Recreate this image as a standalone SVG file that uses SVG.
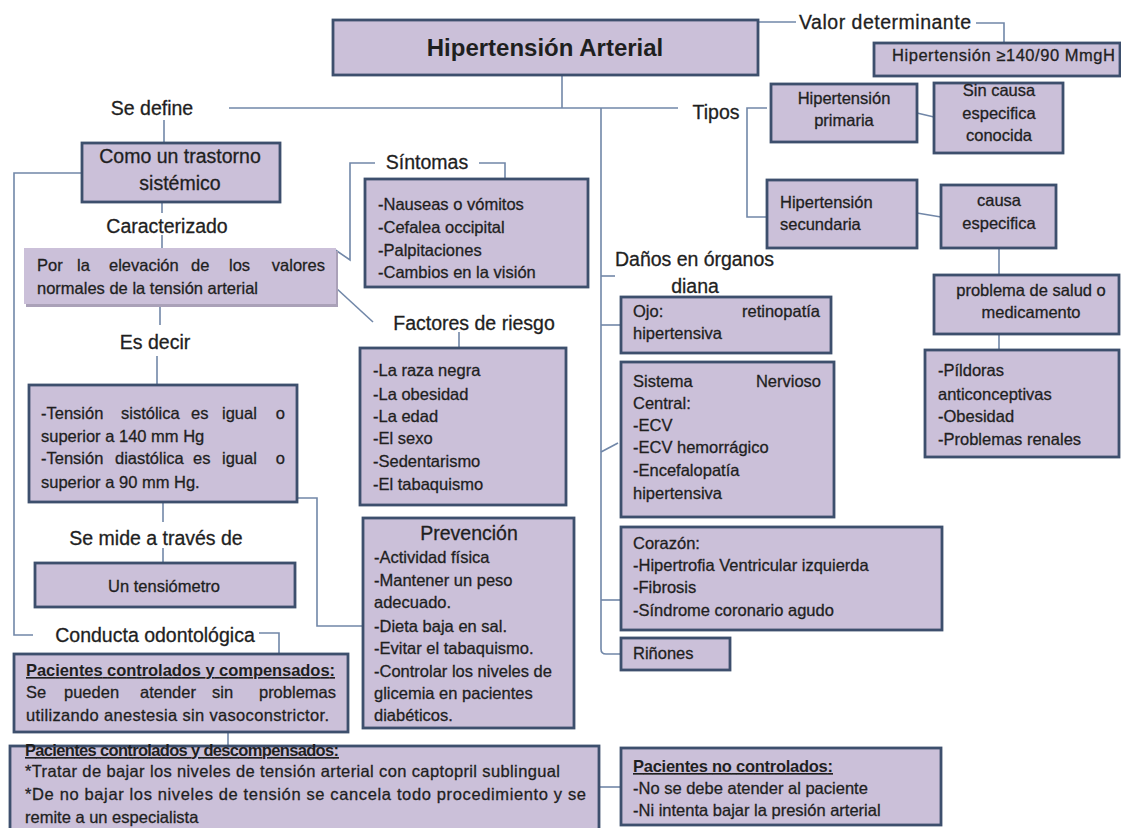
<svg xmlns="http://www.w3.org/2000/svg" width="1121" height="828" viewBox="0 0 1121 828">
<style>
text{font-family:"Liberation Sans",Arial,sans-serif;fill:#1f1f1f;stroke:#1f1f1f;stroke-width:0.3}
.lbl{font-size:19.5px}
.bt{font-size:16.5px}
.md{font-size:19.5px}
.hd{font-size:16.5px;font-weight:bold;text-decoration:underline;stroke-width:0}
.title{font-size:24px;font-weight:bold;stroke-width:0}
.c{text-anchor:middle}
.e{text-anchor:end}
.box{fill:#cbc0d9;stroke:#3d4f6d;stroke-width:2.8}
.plain{fill:#cbc0d9}
.shadow{fill:#aaa1b8}
.conn path{fill:none;stroke:#7187a8;stroke-width:1.6}
</style>
<rect width="1121" height="828" fill="#ffffff"/>

<g id="connectors" class="conn">
<path d="M758,22 H796"/>
<path d="M976,23 H1004 V43"/>
<path d="M562,75 V108"/>
<path d="M229,108 H678"/>
<path d="M601,108 V649 Q601,654 606,654 H621"/>
<path d="M601,276 H615"/>
<path d="M601,325 H621"/>
<path d="M601,452 L618,443"/>
<path d="M601,600 H621"/>
<path d="M767,108 H747 V217 H767"/>
<path d="M917,113 L934,117"/>
<path d="M917,213 L941,217"/>
<path d="M999,248 V275"/>
<path d="M999,334 V350"/>
<path d="M164,120 V143"/>
<path d="M162,202 V213"/>
<path d="M162,235 V248"/>
<path d="M160,305 V325"/>
<path d="M157,356 V385"/>
<path d="M163,502 V522"/>
<path d="M163,548 V563"/>
<path d="M82,173 H14 V635 H33"/>
<path d="M259,633 H279 V654"/>
<path d="M228,732 V746"/>
<path d="M598,787 H621"/>
<path d="M297,498 H317 V626 H363"/>
<path d="M375,163 H350 V260 L334,249"/>
<path d="M479,163 H505 V178"/>
<path d="M336,288 L373,322"/>
<path d="M459,332 V348"/>
</g>

<g id="n-main">
<rect class="box" x="333" y="20" width="425" height="55"/>
<text class="title c" x="545" y="56">Hipertensión Arterial</text>
</g>

<g id="n-valor-label">
<text class="lbl" x="799" y="29" textLength="172">Valor determinante</text>
</g>

<g id="n-valor">
<rect class="box" x="874" y="43" width="246" height="33"/>
<text class="bt" x="892" y="61" textLength="223">Hipertensión ≥140/90 MmgH</text>
</g>

<g id="n-sedefine">
<text class="lbl c" x="152" y="115">Se define</text>
</g>

<g id="n-tipos">
<text class="lbl c" x="716" y="119">Tipos</text>
</g>

<g id="n-primaria">
<rect class="box" x="771" y="84" width="146" height="58"/>
<text class="bt c" x="844" y="104">Hipertensión</text>
<text class="bt c" x="844" y="126">primaria</text>
</g>

<g id="n-sincausa">
<rect class="box" x="934" y="83" width="129" height="70"/>
<text class="bt c" x="999" y="96">Sin causa</text>
<text class="bt c" x="999" y="119">especifica</text>
<text class="bt c" x="999" y="141">conocida</text>
</g>

<g id="n-secundaria">
<rect class="box" x="767" y="180" width="150" height="68"/>
<text class="bt" x="780" y="208">Hipertensión</text>
<text class="bt" x="780" y="230">secundaria</text>
</g>

<g id="n-causa">
<rect class="box" x="941" y="185" width="115" height="63"/>
<text class="bt c" x="999" y="206">causa</text>
<text class="bt c" x="999" y="229">especifica</text>
</g>

<g id="n-problema">
<rect class="box" x="934" y="275" width="185" height="59"/>
<text class="bt c" x="1031" y="296">problema de salud o</text>
<text class="bt c" x="1031" y="318">medicamento</text>
</g>

<g id="n-lista">
<rect class="box" x="925" y="350" width="194" height="107"/>
<text class="bt" x="938" y="376">-Píldoras</text>
<text class="bt" x="938" y="400">anticonceptivas</text>
<text class="bt" x="938" y="422">-Obesidad</text>
<text class="bt" x="938" y="445">-Problemas renales</text>
</g>

<g id="n-danos">
<text class="lbl" x="615" y="266" textLength="159">Daños en órganos</text>
<text class="lbl c" x="695" y="293">diana</text>
</g>

<g id="n-ojo">
<rect class="box" x="621" y="297" width="210" height="56"/>
<text class="bt" x="633" y="317">Ojo:</text>
<text class="bt e" x="820" y="317">retinopatía</text>
<text class="bt" x="633" y="339">hipertensiva</text>
</g>

<g id="n-snc">
<rect class="box" x="621" y="362" width="213" height="155"/>
<text class="bt" x="633" y="387">Sistema</text>
<text class="bt e" x="821" y="387">Nervioso</text>
<text class="bt" x="633" y="409">Central:</text>
<text class="bt" x="633" y="431">-ECV</text>
<text class="bt" x="633" y="453">-ECV hemorrágico</text>
<text class="bt" x="633" y="476">-Encefalopatía</text>
<text class="bt" x="633" y="499">hipertensiva</text>
</g>

<g id="n-corazon">
<rect class="box" x="621" y="527" width="321" height="103"/>
<text class="bt" x="633" y="549">Corazón:</text>
<text class="bt" x="633" y="571">-Hipertrofia Ventricular izquierda</text>
<text class="bt" x="633" y="593">-Fibrosis</text>
<text class="bt" x="633" y="616">-Síndrome coronario agudo</text>
</g>

<g id="n-rinones">
<rect class="box" x="621" y="638" width="109" height="32"/>
<text class="bt" x="633" y="659">Riñones</text>
</g>

<g id="n-nocontrolados">
<rect class="box" x="621" y="748" width="320" height="77"/>
<text class="hd" x="633" y="772" textLength="200">Pacientes no controlados:</text>
<text class="bt" x="633" y="794">-No se debe atender al paciente</text>
<text class="bt" x="633" y="816">-Ni intenta bajar la presión arterial</text>
</g>

<g id="n-como">
<rect class="box" x="82" y="143" width="198" height="59"/>
<text class="md c" x="180" y="163">Como un trastorno</text>
<text class="md c" x="180" y="190">sistémico</text>
</g>

<g id="n-caracterizado">
<text class="lbl c" x="167" y="233">Caracterizado</text>
</g>

<g id="n-porla">
<rect class="shadow" x="26" y="251" width="312" height="56"/>
<rect class="plain" x="24" y="248" width="312" height="56"/>
<text class="bt" y="271"><tspan x="37">Por</tspan><tspan x="77">la</tspan><tspan x="109">elevación</tspan><tspan x="191">de</tspan><tspan x="229">los</tspan><tspan class="e" x="325">valores</tspan></text>
<text class="bt" x="37" y="294">normales de la tensión arterial</text>
</g>

<g id="n-sintomas-label">
<text class="lbl c" x="427" y="169">Síntomas</text>
</g>

<g id="n-sintomas">
<rect class="box" x="365" y="179" width="223" height="108"/>
<text class="bt" x="378" y="210">-Nauseas o vómitos</text>
<text class="bt" x="378" y="233">-Cefalea occipital</text>
<text class="bt" x="378" y="256">-Palpitaciones</text>
<text class="bt" x="378" y="278">-Cambios en la visión</text>
</g>

<g id="n-factores-label">
<text class="lbl c" x="474" y="330">Factores de riesgo</text>
</g>

<g id="n-factores">
<rect class="box" x="360" y="348" width="206" height="157"/>
<text class="bt" x="373" y="376">-La raza negra</text>
<text class="bt" x="373" y="400">-La obesidad</text>
<text class="bt" x="373" y="422">-La edad</text>
<text class="bt" x="373" y="444">-El sexo</text>
<text class="bt" x="373" y="467">-Sedentarismo</text>
<text class="bt" x="373" y="490">-El tabaquismo</text>
</g>

<g id="n-esdecir">
<text class="lbl c" x="155" y="349">Es decir</text>
</g>

<g id="n-tension">
<rect class="box" x="29" y="385" width="268" height="117"/>
<text class="bt" y="419"><tspan x="41">-Tensión</tspan><tspan x="121">sistólica</tspan><tspan x="191">es</tspan><tspan x="222">igual</tspan><tspan class="e" x="285">o</tspan></text>
<text class="bt" x="41" y="442">superior a 140 mm Hg</text>
<text class="bt" y="464"><tspan x="41">-Tensión</tspan><tspan x="115">diastólica</tspan><tspan x="193">es</tspan><tspan x="222">igual</tspan><tspan class="e" x="285">o</tspan></text>
<text class="bt" x="41" y="488">superior a 90 mm Hg.</text>
</g>

<g id="n-semide">
<text class="lbl c" x="156" y="545">Se mide a través de</text>
</g>

<g id="n-tensiometro">
<rect class="box" x="35" y="563" width="260" height="44"/>
<text class="bt c" x="164" y="592">Un tensiómetro</text>
</g>

<g id="n-prevencion">
<rect class="box" x="363" y="518" width="211" height="210"/>
<text class="md c" x="469" y="540">Prevención</text>
<text class="bt" x="374" y="563">-Actividad física</text>
<text class="bt" x="374" y="586">-Mantener un peso</text>
<text class="bt" x="374" y="608">adecuado.</text>
<text class="bt" x="374" y="632">-Dieta baja en sal.</text>
<text class="bt" x="374" y="654">-Evitar el tabaquismo.</text>
<text class="bt" x="374" y="677">-Controlar los niveles de</text>
<text class="bt" x="374" y="699">glicemia en pacientes</text>
<text class="bt" x="374" y="721">diabéticos.</text>
</g>

<g id="n-conducta">
<text class="lbl c" x="155" y="642">Conducta odontológica</text>
</g>

<g id="n-compensados">
<rect class="box" x="14" y="654" width="334" height="78"/>
<text class="hd" x="26" y="676" textLength="309">Pacientes controlados y compensados:</text>
<text class="bt" y="698"><tspan x="26">Se</tspan><tspan x="64">pueden</tspan><tspan x="140">atender</tspan><tspan x="212">sin</tspan><tspan class="e" x="336">problemas</tspan></text>
<text class="bt" x="26" y="721" textLength="303">utilizando anestesia  sin vasoconstrictor.</text>
</g>

<g id="n-descompensados">
<rect class="box" x="10" y="746" width="589" height="100"/>
<text class="hd" x="25" y="756" textLength="314">Pacientes controlados y descompensados:</text>
<text class="bt" x="25" y="777" textLength="535">*Tratar de bajar los niveles de tensión arterial  con captopril sublingual</text>
<text class="bt" x="25" y="800" textLength="561">*De no bajar los niveles de tensión se cancela todo procedimiento y se</text>
<text class="bt" x="25" y="823">remite a un especialista</text>
</g>
</svg>
